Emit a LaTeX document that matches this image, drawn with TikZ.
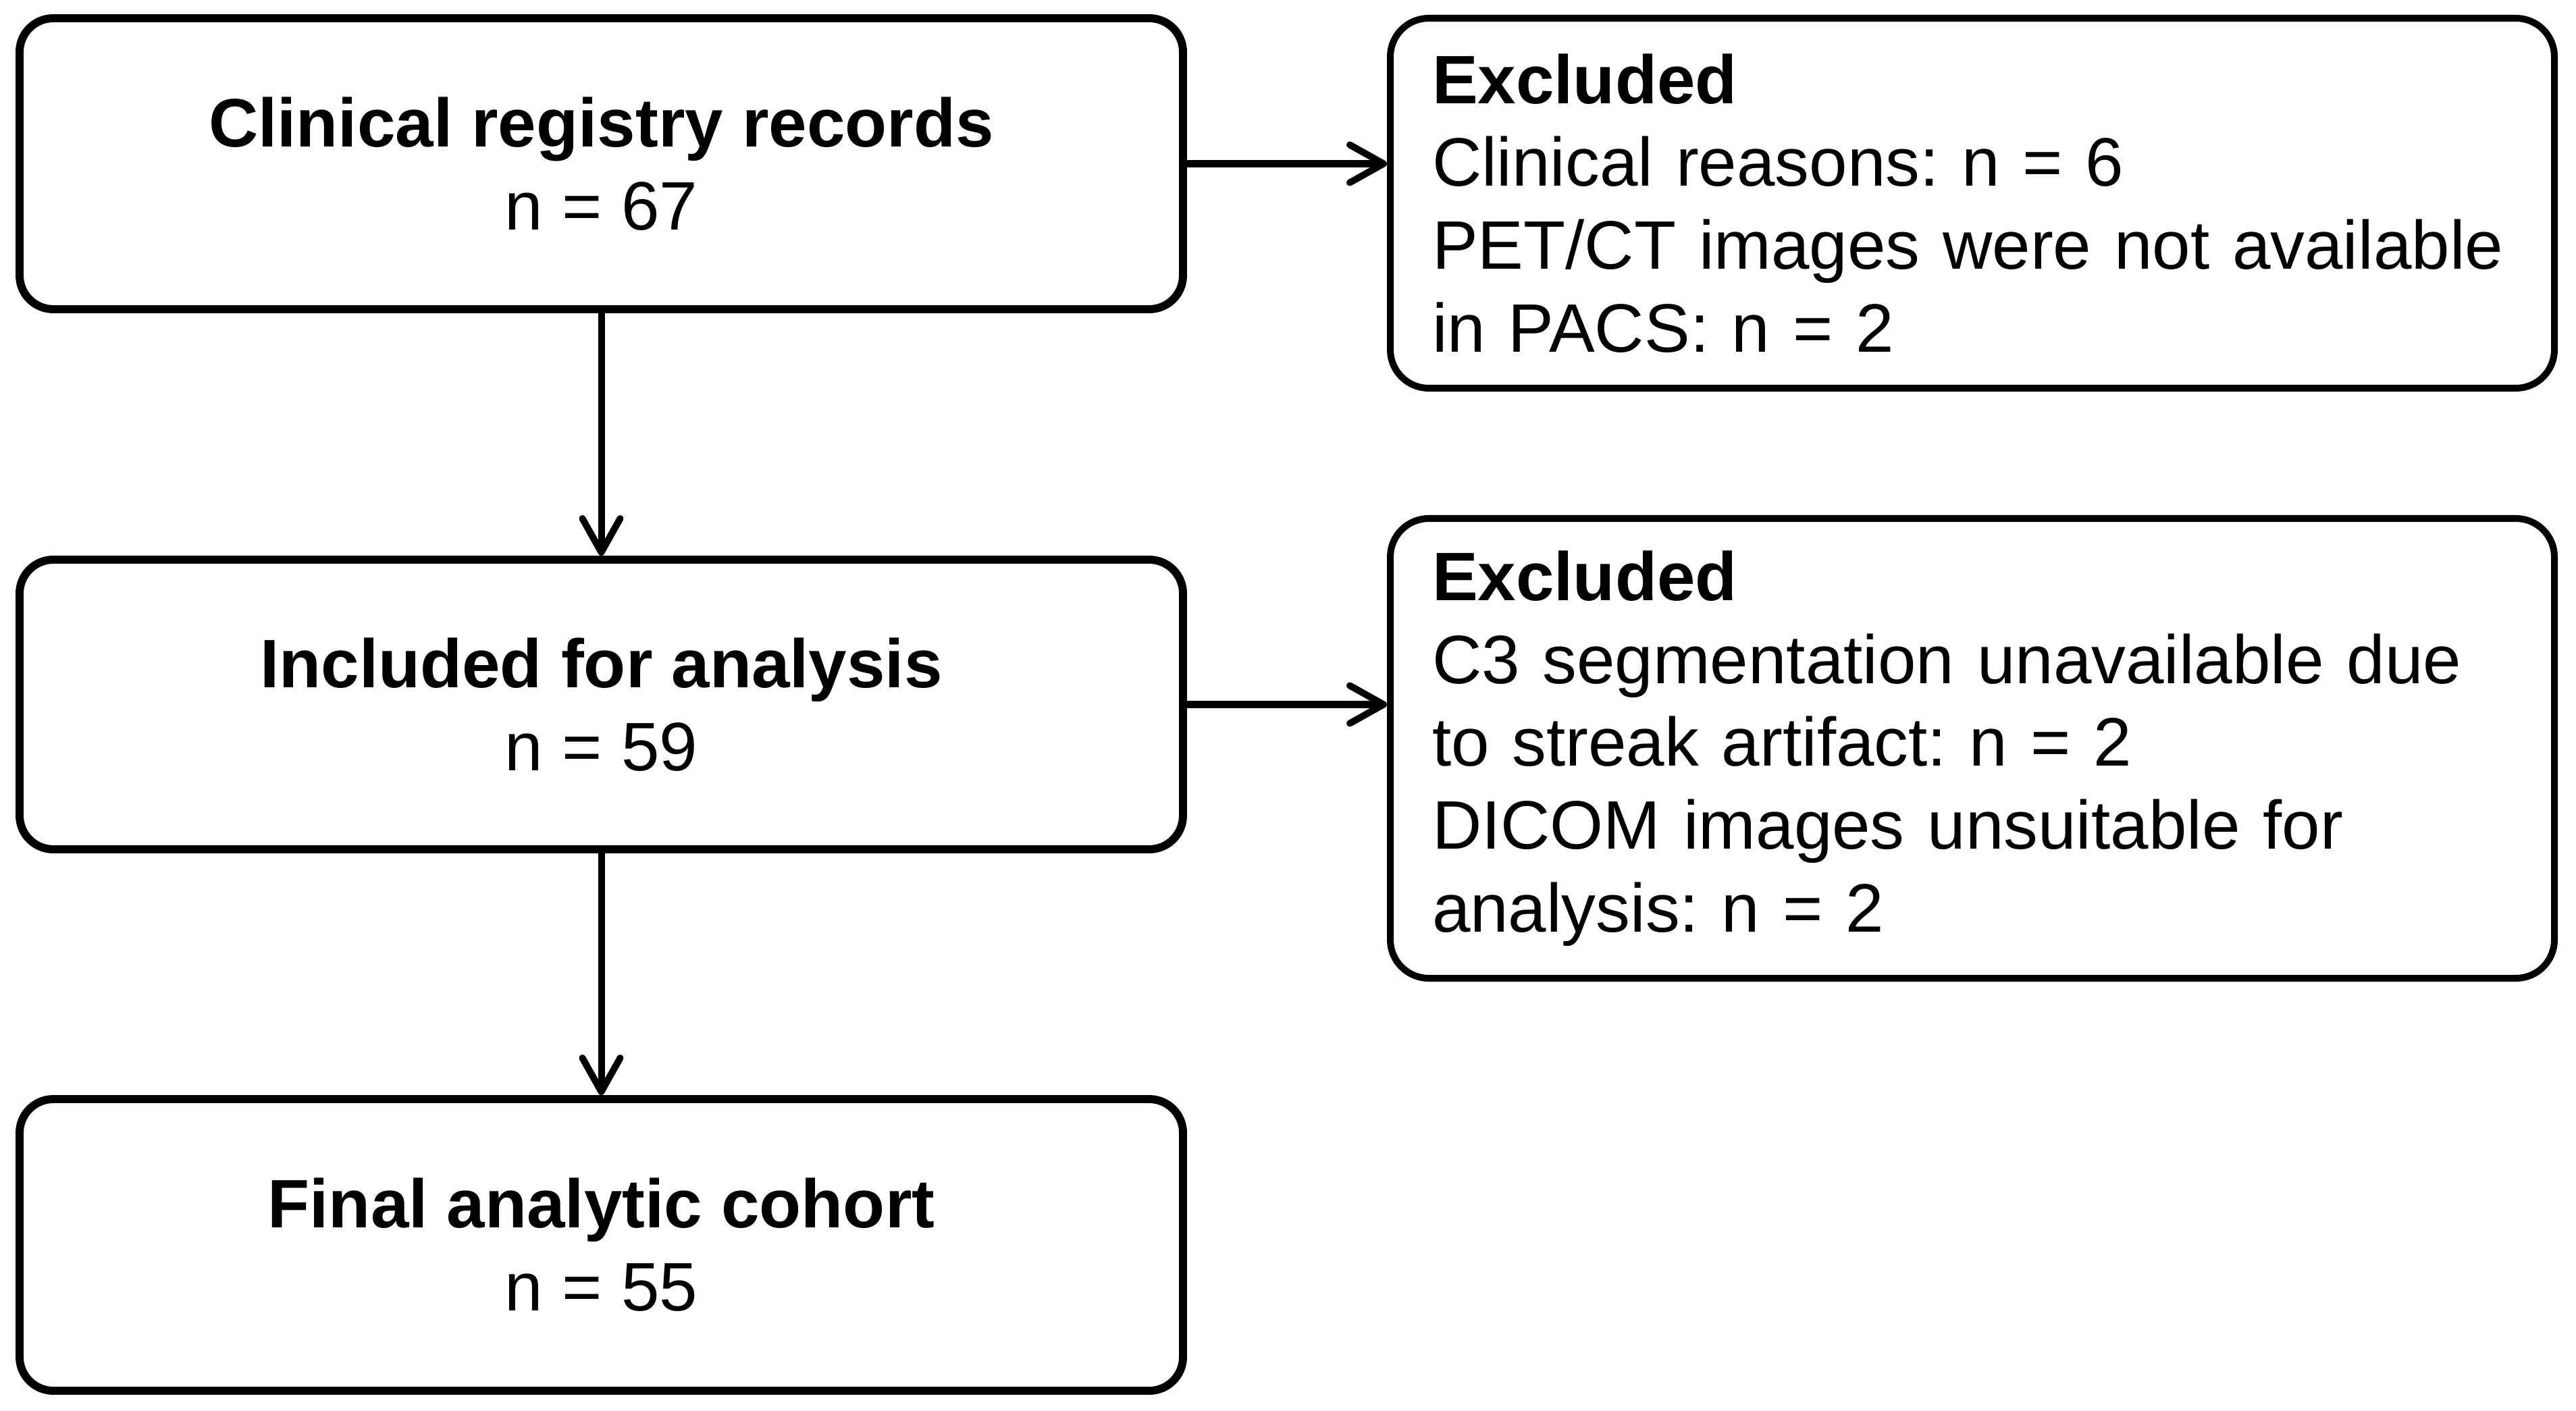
\documentclass[tikz,border=0pt]{standalone}
\usepackage{fontspec}
\setmainfont{Liberation Sans}
\usetikzlibrary{arrows.meta, positioning}
\definecolor{FlowBlack}{HTML}{000000}
\definecolor{FlowWhite}{HTML}{FFFFFF}
\frenchspacing
\tikzset{
    box/.style={
        draw=FlowBlack,
        fill=FlowWhite,
        line width=3.4pt,
        rounded corners=0.5cm,
        minimum width=17.23cm,
        minimum height=4.3cm,
        text=FlowBlack,
        font=\fontsize{28.9pt}{34.9pt}\selectfont,
        align=center,
        inner sep=0pt
    },
    exclbox/.style={
        draw=FlowBlack,
        fill=FlowWhite,
        line width=2.85pt,
        rounded corners=0.57cm,
        minimum width=17.24cm,
        text width=16cm,
        inner xsep=0.62cm,
        inner ysep=0pt,
        text=FlowBlack,
        font=\fontsize{28.9pt}{34.9pt}\selectfont,
        align=left
    },
    arrow/.style={
        -{Straight Barb[length=5mm, width=5.6mm, round]},
        line width=2.85pt,
        FlowBlack
    }
}
\begin{document}
\begin{tikzpicture}
    \useasboundingbox (0,0) rectangle (38.15,-20.9);

    % Main flow
    \node[box, minimum height=4.31cm] (records) at (8.905,-2.425) {\textbf{Clinical registry records}\\n = 67};
    \node[box, minimum height=4.29cm] (included) at (8.905,-10.435) {\textbf{Included for analysis}\\n = 59};
    \node[box, minimum height=4.32cm] (final) at (8.905,-18.44) {\textbf{Final analytic cohort}\\n = 55};

    % Exclusions
    \node[exclbox, minimum height=5.48cm] (excl1) at (29.21,-3.01) {
        \textbf{Excluded}\\
        Clinical reasons: n = 6\\
        PET/CT images were not available\\
        in PACS: n = 2
    };
    \node[exclbox, minimum height=6.81cm] (excl2) at (29.21,-11.085) {
        \textbf{Excluded}\\
        C3 segmentation unavailable due\\
        to streak artifact: n = 2\\
        DICOM images unsuitable for\\
        analysis: n = 2
    };

    % Arrows
    \draw[arrow] (records) -- (included);
    \draw[arrow] (included) -- (final);
    \draw[arrow] (records.east) -- (records.east -| excl1.west);
    \draw[arrow] (included.east) -- (included.east -| excl2.west);
\end{tikzpicture}
\end{document}
